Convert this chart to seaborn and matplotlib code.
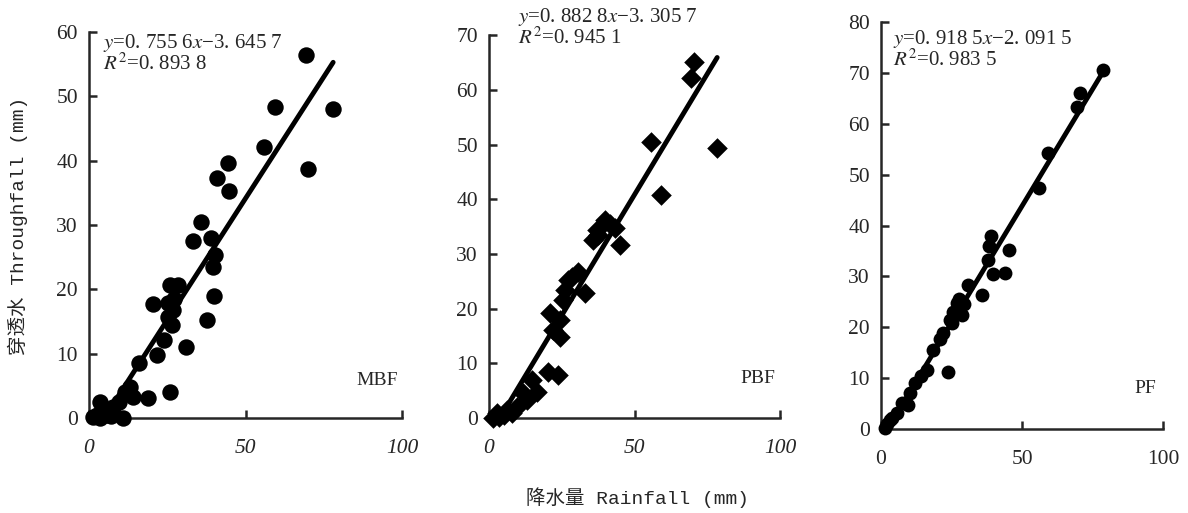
import numpy as np
import pandas as pd
import seaborn as sns
import matplotlib.pyplot as plt

# ---- data ----
mbf_x = [69.3, 59.4, 78.0, 55.9, 70.0, 44.4, 40.9, 44.7, 35.8, 33.2, 39.0, 40.3, 39.7,
         25.9, 28.4, 20.4, 25.3, 26.8, 25.3, 39.9, 37.6, 24.0, 21.7, 31.0, 16.0, 25.9,
         18.8, 14.1, 11.5, 13.1, 3.5, 7.7, 1.3, 5.8, 10.9, 3.5, 7.0, 2.5, 5.0, 9.5,
         27.0, 26.5]
mbf_y = [56.4, 48.4, 48.0, 42.1, 38.7, 39.7, 37.3, 35.3, 30.5, 27.5, 28.0, 25.3, 23.5,
         20.7, 20.7, 17.7, 17.9, 16.8, 15.7, 19.0, 15.2, 12.1, 9.8, 11.0, 8.5, 4.0,
         3.1, 3.3, 4.0, 4.8, 2.5, 1.7, 0.2, 0.5, 0.0, 0.0, 0.3, 0.5, 1.2, 2.5,
         18.5, 14.5]

pbf_x = [70.4, 69.4, 55.7, 78.4, 59.1, 39.9, 43.3, 37.1, 45.0, 35.7, 37.5, 30.6, 27.1,
         33.0, 25.4, 21.0, 24.4, 22.0, 24.4, 20.3, 23.7, 16.5, 13.0, 9.6, 6.2, 2.7,
         1.5, 3.5, 14.8, 11.7, 28.5, 26.0, 8.0, 5.0, 41.5]
pbf_y = [65.1, 62.1, 50.5, 49.4, 40.8, 36.2, 34.7, 34.4, 31.6, 32.5, 33.5, 26.7, 25.2,
         22.8, 21.6, 19.2, 17.9, 16.1, 14.8, 8.4, 7.9, 4.8, 3.3, 2.0, 1.5, 0.9,
         0.0, 0.2, 7.0, 4.6, 25.8, 23.5, 1.0, 0.5, 35.5]

pf_x = [78.7, 70.6, 69.5, 59.2, 56.0, 39.0, 45.4, 38.3, 37.9, 39.7, 44.0, 30.9, 35.8,
        28.7, 25.5, 26.9, 25.2, 22.0, 20.9, 18.4, 23.8, 16.3, 12.1, 10.3, 9.6, 7.4,
        5.7, 3.2, 1.4, 2.0, 27.5, 24.5, 29.5, 14.0, 4.0]
pf_y = [70.6, 66.1, 63.3, 54.2, 47.3, 37.9, 35.1, 35.9, 33.3, 30.4, 30.6, 28.4, 26.4,
        22.5, 23.1, 24.8, 20.9, 18.9, 17.6, 15.6, 11.2, 11.6, 9.1, 7.1, 4.7, 5.1,
        3.2, 1.8, 0.2, 1.0, 25.5, 21.5, 24.5, 10.5, 2.2]

stands = ["MBF", "PBF", "PF"]
slopes = [0.7556, 0.8828, 0.9185]
intercepts = [-3.6457, -3.3057, -2.0915]
eq_text = ["$y$=0. 755 6$x$\u22123. 645 7\n$R^2$=0. 893 8",
           "$y$=0. 882 8$x$\u22123. 305 7\n$R^2$=0. 945 1",
           "$y$=0. 918 5$x$\u22122. 091 5\n$R^2$=0. 983 5"]
y_max = [60, 70, 80]
x_ticks = [0, 50, 100]

# ---- style ----
sns.set_style("ticks")
plt.rcParams["font.family"] = ["Liberation Serif", "Noto Sans CJK SC"]
plt.rcParams["mathtext.fontset"] = "stix"

fig = plt.figure(figsize=(11.88, 5.13), dpi=100)
rects = [
    [0.0749, 0.185, 0.2635, 0.7526],
    [0.4116, 0.185, 0.2450, 0.7466],
    [0.7416, 0.1637, 0.2374, 0.7933],
]
eq_pos = [(0.045, 1.0), (0.10, 1.075), (0.043, 0.985)]
lab_pos = [(0.92, 0.098), (0.925, 0.104), (0.936, 0.10)]
markers = ["o", "D", "o"]
msize = [140, 110, 100]

xs = [mbf_x, pbf_x, pf_x]
ys = [mbf_y, pbf_y, pf_y]

for i in range(3):
    ax = fig.add_axes(rects[i])
    df = pd.DataFrame({"x": xs[i], "y": ys[i]})
    sns.scatterplot(data=df, x="x", y="y", ax=ax, marker=markers[i], s=msize[i],
                    color="black", edgecolor="black", linewidth=0, clip_on=False,
                    zorder=3)
    # regression line given by the equation in the panel
    fx = np.array([df.x.min(), df.x.max()])
    fit = pd.DataFrame({"x": fx, "y": slopes[i] * fx + intercepts[i]})
    sns.lineplot(data=fit, x="x", y="y", ax=ax, color="black", lw=3.5, zorder=4)

    ax.set_xlim(0, 100)
    ax.set_ylim(0, y_max[i])
    ax.set_xticks(x_ticks)
    ax.set_yticks(np.arange(0, y_max[i] + 1, 10))
    ax.set_xlabel("")
    ax.set_ylabel("")
    for s in ["top", "right"]:
        ax.spines[s].set_visible(False)
    for s in ["left", "bottom"]:
        ax.spines[s].set_linewidth(1.8)
    ax.tick_params(direction="in", length=6, width=1.8, labelsize=15.5)
    ax.tick_params(axis="x", pad=15)
    ax.tick_params(axis="y", pad=8)
    if i < 2:
        for t in ax.get_xticklabels():
            t.set_fontstyle("italic")

    ax.text(eq_pos[i][0], eq_pos[i][1], eq_text[i], transform=ax.transAxes,
            ha="left", va="top", fontsize=15, linespacing=0.95)
    ax.text(lab_pos[i][0], lab_pos[i][1], stands[i], transform=ax.transAxes,
            ha="center", va="center", fontsize=14)

fig.text(0.015, 0.56, "穿透水 Throughfall (mm)", rotation=90, ha="center", va="center",
         fontsize=14, family=["Liberation Mono", "Noto Sans CJK SC"])
fig.text(0.537, 0.03, "降水量 Rainfall (mm)", ha="center", va="center",
         fontsize=14, family=["Liberation Mono", "Noto Sans CJK SC"])

fig.savefig("out.png", dpi=100)
